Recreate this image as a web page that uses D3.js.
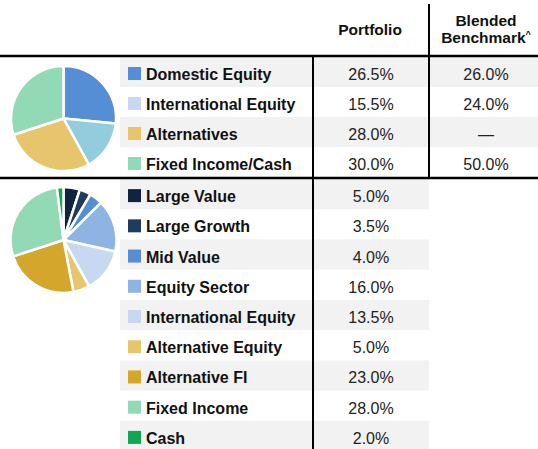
<!DOCTYPE html>
<html>
<head>
<meta charset="utf-8">
<script src="https://cdn.jsdelivr.net/npm/d3@7"></script>
<style>
  html, body { margin: 0; padding: 0; background: #fff; }
  svg { display: block; }
  text { font-family: "Liberation Sans", Arial, Helvetica, sans-serif; }
</style>
</head>
<body>
<svg id="chart" width="538" height="449"></svg>
<script>
// Asset class summary
const summaryCategories = ["Domestic Equity", "International Equity", "Alternatives", "Fixed Income/Cash"];
const summaryPortfolio = [26.5, 15.5, 28.0, 30.0];
const summaryBenchmark = [26.0, 24.0, null, 50.0];
const summarySwatchColors = ["#558ed5", "#c6d9f1", "#e6c56c", "#92d9b6"];
const summaryPieColors = ["#558ed5", "#93cddd", "#e6c56c", "#92d9b6"];

// Detailed sub-asset breakdown
const detailCategories = ["Large Value", "Large Growth", "Mid Value", "Equity Sector",
  "International Equity", "Alternative Equity", "Alternative FI", "Fixed Income", "Cash"];
const detailPortfolio = [5.0, 3.5, 4.0, 16.0, 13.5, 5.0, 23.0, 28.0, 2.0];
const detailColors = ["#10243f", "#1f3b60", "#558ed5", "#8eb4e3", "#c6d9f1",
  "#e6c56c", "#d4a72c", "#92d9b6", "#12a650"];

const columnHeaders = ["Portfolio", "Blended", "Benchmark"];

const W = 538, H = 449;
const svg = d3.select("#chart");
const fmt = v => v == null ? "\u2014" : d3.format(".1f")(v) + "%";

const layout = {
  headerLine: 56,
  sepLine: 178,
  rowX0: 120,
  swatchX: 128,
  labelX: 146,
  col1: [313, 429],
  col2: [429, 545]
};

const y1 = d3.scaleBand().domain(d3.range(summaryCategories.length)).range([57, 177]);
const y2 = d3.scaleBand().domain(d3.range(detailCategories.length)).range([179, 451]);

// Alternating row shading
svg.append("g").selectAll("rect")
  .data(d3.range(summaryCategories.length).filter(i => i % 2 === 0))
  .join("rect")
  .attr("x", layout.rowX0).attr("y", i => y1(i))
  .attr("width", W - layout.rowX0).attr("height", y1.bandwidth())
  .attr("fill", "#f2f2f2");

svg.append("g").selectAll("rect")
  .data(d3.range(detailCategories.length).filter(i => i % 2 === 0))
  .join("rect")
  .attr("x", layout.rowX0).attr("y", i => y2(i))
  .attr("width", layout.col1[1] - layout.rowX0).attr("height", y2.bandwidth())
  .attr("fill", "#f2f2f2");

// Rows: swatch, label, values
function drawRows(scale, cats, colors, portfolio, benchmark) {
  const g = svg.append("g");
  const rows = g.selectAll("g").data(cats).join("g")
    .attr("transform", (d, i) => `translate(0,${scale(i)})`);
  const base = scale.bandwidth() / 2 + 8;
  rows.append("rect")
    .attr("x", layout.swatchX).attr("y", base - 13)
    .attr("width", 13).attr("height", 13)
    .attr("fill", (d, i) => colors[i]);
  rows.append("text")
    .attr("x", layout.labelX).attr("y", base)
    .attr("font-size", 16).attr("font-weight", "bold").attr("fill", "#111")
    .text(d => d);
  rows.append("text")
    .attr("x", (layout.col1[0] + layout.col1[1]) / 2).attr("y", base)
    .attr("text-anchor", "middle").attr("font-size", 16).attr("fill", "#222")
    .text((d, i) => fmt(portfolio[i]));
  if (benchmark) {
    rows.append("text")
      .attr("x", (layout.col2[0] + layout.col2[1]) / 2 - 1).attr("y", base)
      .attr("text-anchor", "middle").attr("font-size", 16).attr("fill", "#222")
      .text((d, i) => fmt(benchmark[i]));
  }
}
drawRows(y1, summaryCategories, summarySwatchColors, summaryPortfolio, summaryBenchmark);
drawRows(y2, detailCategories, detailColors, detailPortfolio, null);

// Column headers
const hx1 = (layout.col1[0] + layout.col1[1]) / 2 - 1;
const hx2 = (layout.col2[0] + layout.col2[1]) / 2 - 1;
svg.append("text").attr("x", hx1).attr("y", 35)
  .attr("text-anchor", "middle").attr("font-size", 15.5).attr("font-weight", "bold").attr("fill", "#111")
  .text(columnHeaders[0]);
svg.append("text").attr("x", hx2).attr("y", 26)
  .attr("text-anchor", "middle").attr("font-size", 15.5).attr("font-weight", "bold").attr("fill", "#111")
  .text(columnHeaders[1]);
const bm = svg.append("text").attr("x", hx2).attr("y", 43)
  .attr("text-anchor", "middle").attr("font-size", 15.5).attr("font-weight", "bold").attr("fill", "#111");
bm.append("tspan").text(columnHeaders[2]);
bm.append("tspan").attr("font-size", 9).attr("dy", -6).text("^");

// Rules
const rule = (x1, y1v, x2, y2v, w) => svg.append("line")
  .attr("x1", x1).attr("y1", y1v).attr("x2", x2).attr("y2", y2v)
  .attr("stroke", "#000").attr("stroke-width", w);
rule(0, layout.headerLine, W, layout.headerLine, 2.5);
rule(0, layout.sepLine, W, layout.sepLine, 2.5);
rule(313, layout.headerLine, 313, H, 2);
rule(429, 4, 429, layout.sepLine, 2);

// Pies
function drawPie(values, colors, cx, cy, r) {
  const pie = d3.pie().sort(null).value(d => d);
  const arc = d3.arc().innerRadius(0).outerRadius(r);
  svg.append("g").attr("transform", `translate(${cx},${cy})`)
    .selectAll("path").data(pie(values)).join("path")
    .attr("d", arc)
    .attr("fill", (d, i) => colors[i])
    .attr("stroke", "#fff").attr("stroke-width", 2.5)
    .attr("stroke-linejoin", "round");
}
drawPie(summaryPortfolio, summaryPieColors, 63.5, 118.5, 52.5);
drawPie(detailPortfolio, detailColors, 63.5, 240, 53);
</script>
</body>
</html>
